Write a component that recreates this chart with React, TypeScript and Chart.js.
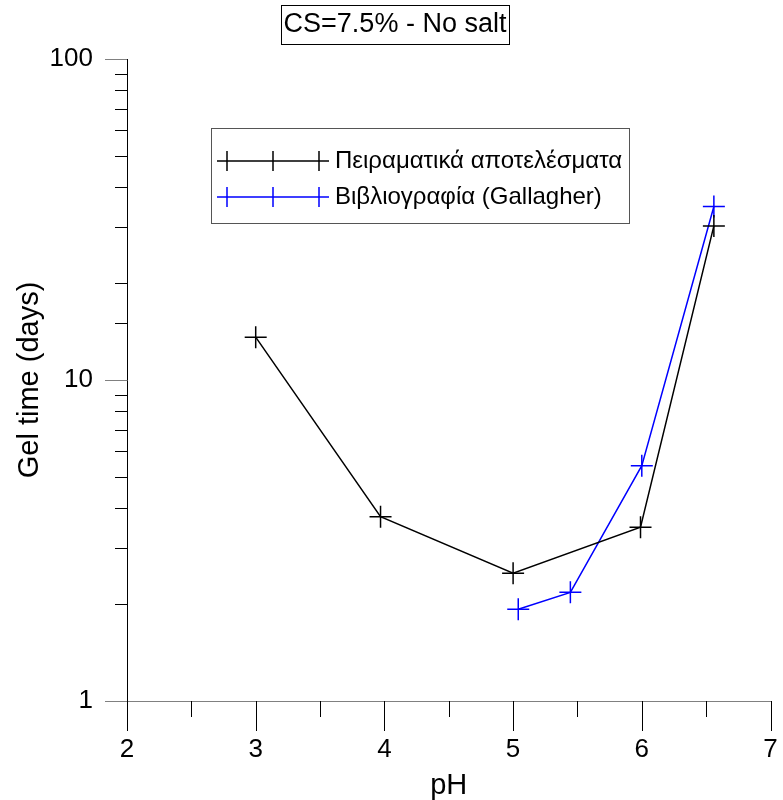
import React, { useEffect, useRef } from "react";
import { Chart, registerables } from "chart.js";

Chart.register(...registerables);

const chartTitle = "CS=7.5% - No salt";
const xAxisTitle = "pH";
const yAxisTitle = "Gel time (days)";
const seriesLabels = ["Πειραματικά αποτελέσματα", "Βιβλιογραφία (Gallagher)"];
const seriesColors = ["#000000", "#0000ff"];

const expPH = [3.0, 3.97, 5.0, 5.99, 6.56];
const expGelTime = [13.6, 3.75, 2.5, 3.48, 30.2];
const litPH = [5.04, 5.445, 6.0, 6.56];
const litGelTime = [1.93, 2.18, 5.41, 34.7];

const xTickLabels = [2, 3, 4, 5, 6, 7];
const yTickLabels = [1, 10, 100];

const FONT = "'Liberation Sans', Arial, sans-serif";

const decorPlugin = {
  id: "decor",
  afterDraw(chart: any) {
    const ctx = chart.ctx;
    const xs = chart.scales.x;
    const ys = chart.scales.y;
    const left = chart.chartArea.left;
    const bottom = chart.chartArea.bottom;
    ctx.save();
    ctx.lineWidth = 1;
    // y ticks (outside, left)
    ys.ticks.forEach((t: any) => {
      const py = Math.round(ys.getPixelForValue(t.value)) + 0.5;
      const major = yTickLabels.includes(t.value);
      ctx.strokeStyle = major ? "#808080" : "#000000";
      ctx.beginPath();
      ctx.moveTo(left - (major ? 22 : 12), py);
      ctx.lineTo(left, py);
      ctx.stroke();
    });
    // x ticks (outside, below)
    xs.ticks.forEach((t: any) => {
      const px = Math.round(xs.getPixelForValue(t.value)) + 0.5;
      const major = xTickLabels.includes(t.value);
      ctx.strokeStyle = "#000000";
      ctx.beginPath();
      ctx.moveTo(px, bottom);
      ctx.lineTo(px, bottom + (major ? 30 : 16));
      ctx.stroke();
    });

    // title box
    ctx.font = `27px ${FONT}`;
    ctx.fillStyle = "#000";
    ctx.textAlign = "center";
    ctx.textBaseline = "middle";
    ctx.fillText(chartTitle, 395, 25);
    ctx.strokeStyle = "#000";
    ctx.strokeRect(281.5, 5.5, 228, 39);

    // legend
    const lx = 211.5, ly = 128.5, lw = 418, lh = 95;
    ctx.fillStyle = "#fff";
    ctx.fillRect(lx, ly, lw, lh);
    ctx.strokeStyle = "#555";
    ctx.strokeRect(lx, ly, lw, lh);
    const rowsY = [161, 197];
    chart.data.datasets.forEach((ds: any, i: number) => {
      const yy = rowsY[i];
      ctx.strokeStyle = ds.borderColor;
      ctx.lineWidth = 1.5;
      ctx.beginPath();
      ctx.moveTo(217, yy);
      ctx.lineTo(329, yy);
      [227, 273, 319].forEach((cx) => {
        ctx.moveTo(cx, yy - 10);
        ctx.lineTo(cx, yy + 10);
      });
      ctx.stroke();
      ctx.fillStyle = "#000";
      ctx.font = `24px ${FONT}`;
      ctx.textAlign = "left";
      ctx.textBaseline = "middle";
      ctx.fillText(ds.label, 335, yy);
    });
    ctx.restore();
  },
};

export default function App() {
  const ref = useRef<HTMLCanvasElement | null>(null);
  useEffect(() => {
    if (!ref.current) return;
    const mk = (xs: number[], ys: number[]) => xs.map((x, i) => ({ x, y: ys[i] }));
    const chart = new Chart(ref.current, {
      type: "scatter",
      data: {
        datasets: [
          {
            label: seriesLabels[0],
            data: mk(expPH, expGelTime),
            showLine: true,
            borderColor: seriesColors[0],
            backgroundColor: seriesColors[0],
            borderWidth: 1.5,
            pointStyle: "cross",
            pointRadius: 11,
            pointBorderWidth: 1.5,
            pointBorderColor: seriesColors[0],
          },
          {
            label: seriesLabels[1],
            data: mk(litPH, litGelTime),
            showLine: true,
            borderColor: seriesColors[1],
            backgroundColor: seriesColors[1],
            borderWidth: 1.5,
            pointStyle: "cross",
            pointRadius: 11,
            pointBorderWidth: 1.5,
            pointBorderColor: seriesColors[1],
          },
        ],
      },
      options: {
        responsive: false,
        animation: false,
        layout: { padding: { top: 59, right: 12, bottom: 0, left: 0 } },
        plugins: {
          legend: { display: false },
          tooltip: { enabled: false },
          title: { display: false },
        },
        scales: {
          x: {
            type: "linear",
            min: 2,
            max: 7,
            grid: { display: false, drawTicks: false },
            border: { display: true, color: "#808080", width: 1 },
            ticks: {
              stepSize: 0.5,
              autoSkip: false,
              maxRotation: 0,
              padding: 33,
              color: "#000",
              font: { family: FONT, size: 26 },
              callback: (v: any) => (xTickLabels.includes(Number(v)) ? String(v) : ""),
            },
            title: {
              display: true,
              text: xAxisTitle,
              color: "#000",
              font: { family: FONT, size: 29, lineHeight: 1 },
              padding: { top: 0, bottom: 0 },
            },
            afterFit: (s: any) => {
              s.height = 99;
              s.paddingLeft = 0;
              s.paddingRight = 0;
            },
          },
          y: {
            type: "logarithmic",
            min: 1,
            max: 100,
            grid: { display: false, drawTicks: false },
            border: { display: true, color: "#000", width: 1 },
            ticks: {
              autoSkip: false,
              padding: 34,
              color: "#000",
              font: { family: FONT, size: 26 },
              callback: (v: any) => (yTickLabels.includes(Number(v)) ? String(v) : ""),
            },
            title: {
              display: true,
              text: yAxisTitle,
              color: "#000",
              font: { family: FONT, size: 29, lineHeight: 1 },
              padding: { top: 15, bottom: 0 },
            },
            afterFit: (s: any) => {
              s.width = 127;
              s.paddingTop = 0;
              s.paddingBottom = 0;
            },
          },
        },
      },
      plugins: [decorPlugin],
    } as any);
    return () => chart.destroy();
  }, []);
  return (
    <div style={{ position: "absolute", left: 0, top: 0, width: 783, height: 800, background: "#fff" }}>
      <canvas ref={ref} width={783} height={800} style={{ display: "block" }} />
    </div>
  );
}
